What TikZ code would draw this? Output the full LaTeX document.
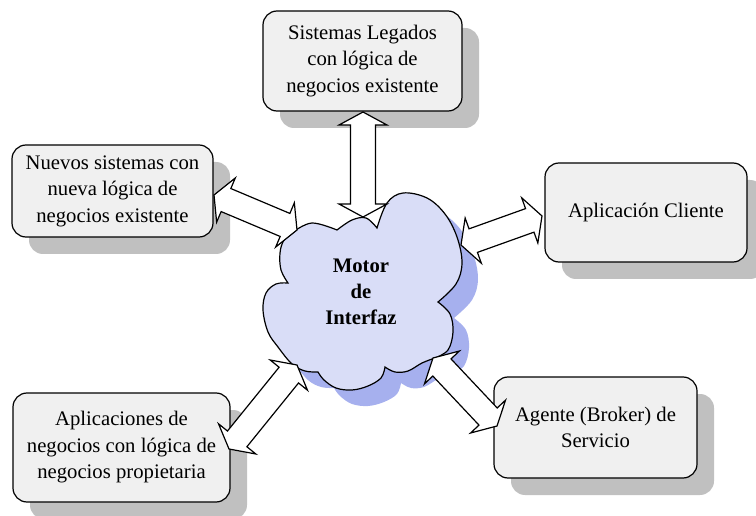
\documentclass[tikz,border=0pt]{standalone}
\usepackage{fontspec}
\setmainfont{Liberation Serif}
\usetikzlibrary{calc,shadows}

\definecolor{boxfill}{RGB}{240,240,240}
\definecolor{boxshadow}{RGB}{192,192,192}
\definecolor{cloudfill}{RGB}{217,221,247}
\definecolor{cloudshadow}{RGB}{166,176,238}

% outline of the central cloud (units: x=1pt, y=-1pt)
\newcommand\cloudoutline{%
  (293,232)
  -- plot[smooth,tension=.6] coordinates {(293,232) (312,223) (337,230)}
  -- plot[smooth,tension=.6] coordinates {(337,230) (352,220) (366,218) (377,228)}
  -- plot[smooth,tension=.6] coordinates {(377,228) (387,203) (403,193) (427,198) (445,214) (457,237) (462,263) (456,284) (438,302)}
  -- plot[smooth,tension=.6] coordinates {(438,302) (450,314) (453,332) (448,350) (435,358)}
  -- plot[smooth,tension=.6] coordinates {(435,358) (422,363) (408,371) (395,372) (385,367)}
  -- plot[smooth,tension=.6] coordinates {(385,367) (381,378) (368,386) (352,390) (336,388) (324,380) (318,372)}
  -- plot[smooth,tension=.6] coordinates {(318,372) (305,371) (292,364) (278,347) (268,332) (263,310) (266,293) (276,284) (288,283)}
  -- plot[smooth,tension=.6] coordinates {(288,283) (281,270) (280,253) (284,240) (293,232)}
  -- cycle}

% two-headed block arrow between two named points
\newcommand\hl{13pt}
\newcommand\hw{24pt}
\newcommand\sw{12.5pt}
\newcommand\blockarrow[2]{%
  \draw[blockarrow] (#1)
    -- ($(#1)!\hl!(#2)!\hw!90:(#2)$)
    -- ($(#1)!\hl!(#2)!\sw!90:(#2)$)
    -- ($(#2)!\hl!(#1)!\sw!-90:(#1)$)
    -- ($(#2)!\hl!(#1)!\hw!-90:(#1)$)
    -- (#2)
    -- ($(#2)!\hl!(#1)!\hw!90:(#1)$)
    -- ($(#2)!\hl!(#1)!\sw!90:(#1)$)
    -- ($(#1)!\hl!(#2)!\sw!-90:(#2)$)
    -- ($(#1)!\hl!(#2)!\hw!-90:(#2)$)
    -- cycle;}

\tikzset{
  infobox/.style={draw=black, line width=1.2pt, fill=boxfill, rounded corners=14pt,
    align=center, inner sep=0pt,
    drop shadow={shadow xshift=17pt, shadow yshift=-17pt, fill=boxshadow, opacity=1}},
  blockarrow/.style={draw=black, fill=white, line width=1.2pt, line join=miter},
  cloudline/.style={draw=black, fill=cloudfill, line width=1.2pt},
}

\begin{document}
\begin{tikzpicture}[x=1pt, y=-1pt, font=\fontsize{20.7}{26.5}\selectfont]
\useasboundingbox (0,0) rectangle (756,516);

% boxes
\node[infobox, minimum width=199pt, minimum height=100pt] (legados) at (362.5,61)
  {Sistemas Legados\\con lógica de\\negocios existente};
\node[infobox, minimum width=201pt, minimum height=92pt] (nuevos) at (112.5,191)
  {Nuevos sistemas con\\nueva lógica de\\negocios existente};
\node[infobox, minimum width=202pt, minimum height=99pt] (cliente) at (646,212.5)
  {Aplicación Cliente};
\node[infobox, minimum width=217pt, minimum height=109pt] (propias) at (121.5,447.5)
  {Aplicaciones de\\negocios con lógica de\\negocios propietaria};
\node[infobox, minimum width=203pt, minimum height=101pt] (broker) at (595.5,427.5)
  {Agente (Broker) de\\Servicio};

% cloud with its shadow
\fill[cloudshadow, shift={(16,16)}] \cloudoutline;
\path[cloudline] \cloudoutline;
\node[font=\fontsize{20.7}{26}\selectfont\bfseries, align=center] (motor) at (361,292)
  {Motor\\de\\Interfaz};

% arrow end points on the boxes and on the cloud
\coordinate (aTop1) at (363,112);  \coordinate (aTop2) at (363,217);
\coordinate (aL1) at (214,195);    \coordinate (aL2) at (297,230);
\coordinate (aR1) at (461,245);    \coordinate (aR2) at (542,216);
\coordinate (aBL1) at (229,449);   \coordinate (aBL2) at (297,365);
\coordinate (aBR1) at (433,358);   \coordinate (aBR2) at (497,426);

\blockarrow{aTop1}{aTop2}
\blockarrow{aL1}{aL2}
\blockarrow{aR1}{aR2}
\blockarrow{aBL1}{aBL2}
\blockarrow{aBR1}{aBR2}
\end{tikzpicture}
\end{document}
